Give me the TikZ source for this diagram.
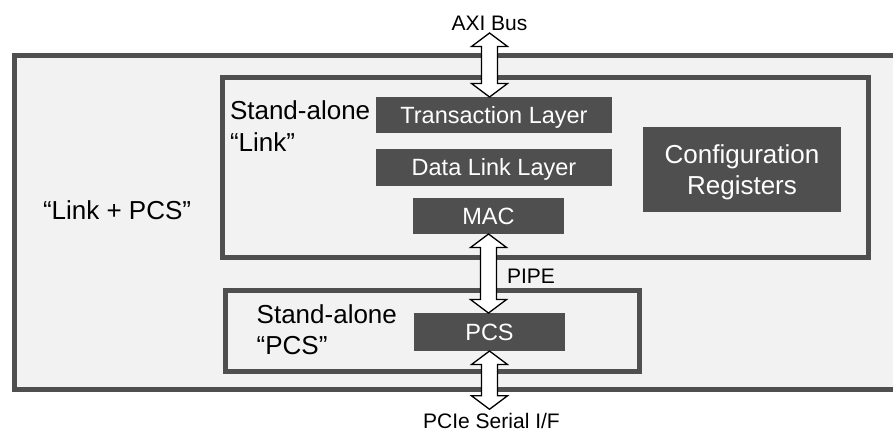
\documentclass[tikz,border=0pt]{standalone}
\usepackage{fontspec}
\setmainfont{Liberation Sans}
\usetikzlibrary{calc}
\definecolor{bgray}{HTML}{F2F2F2}
\definecolor{dgray}{HTML}{4F4F4F}
\newcommand{\bidir}[2]{%
  \path[dblarrow] let \p1=(#1), \p2=(#2) in
   (\x1,\y1) -- ++(18pt,-13.5pt) -- ++(-10pt,0pt) -- (\x1+8pt,\y2+13.5pt)
   -- ++(10pt,0pt) -- (\x1,\y2) -- ++(-18pt,13.5pt) -- ++(10pt,0pt)
   -- (\x1-8pt,\y1-13.5pt) -- ++(-10pt,0pt) -- cycle;}
\tikzset{
  frame/.style={draw=dgray, fill=bgray, line width=5pt, rectangle, inner sep=0pt, outer sep=0pt, anchor=north west},
  darkbox/.style={fill=dgray, text=white, rectangle, inner sep=0pt, outer sep=0pt,
     font=\fontsize{23.5}{28}\selectfont, text height=16.8pt, text depth=0pt},
  bigtxt/.style={inner sep=0pt, outer sep=0pt, font=\fontsize{26}{31.7}\selectfont},
  smalltxt/.style={inner sep=0pt, outer sep=0pt, font=\fontsize{21}{25}\selectfont},
  dblarrow/.style={draw=black, fill=white, line width=1.3pt, line join=miter}
}
\begin{document}
\begin{tikzpicture}[x=1pt,y=-1pt]
\clip (0,0) rectangle (893,434);
\fill[white] (0,0) rectangle (893,434);
% frames
\node[frame, minimum width=890.8pt, minimum height=333.7pt] (outer) at (14.2,55.8) {};
\node[frame, minimum width=646pt, minimum height=180.5pt] (linkbox) at (222.5,77) {};
\node[frame, minimum width=414pt, minimum height=81pt] (pcsbox) at (225.5,290.5) {};
% dark blocks
\node[darkbox, minimum width=236pt, minimum height=36pt] (tl) at (494,115) {Transaction Layer};
\node[darkbox, minimum width=236pt, minimum height=36.5pt] (dll) at (494,167.5) {Data Link Layer};
\node[darkbox, minimum width=151pt, minimum height=36pt] (mac) at (488.5,216) {MAC};
\node[darkbox, minimum width=151pt, minimum height=38pt] (pcs) at (489.5,332) {PCS};
\node[darkbox, minimum width=198pt, minimum height=85pt] (cfg) at (742,169.5) {};
\node[bigtxt, text=white, align=center] (cfgtxt) at ($(cfg.center)+(0,2.9)$) {Configuration\\Registers};
% labels
\node[bigtxt, align=left, anchor=north west] (lnklbl) at (230,101) {Stand-alone\\“Link”};
\node[bigtxt, align=left, anchor=north west] (pcslbl) at (256.7,304.3) {Stand-alone\\“PCS”};
\node[bigtxt, anchor=base west] (lpcs) at (43,219.3) {“Link + PCS”};
\node[smalltxt, anchor=base] (axi) at (489.5,30) {AXI Bus};
\node[smalltxt, anchor=base west] (pipe) at (507,283.3) {PIPE};
\node[smalltxt, anchor=base] (pcie) at (491.5,428.5) {PCIe Serial I/F};
% arrow end points
\coordinate (axitip) at ($(axi.base)+(0,3)$);
\coordinate (pcietip) at ($(pcie.north)+(0,-4)$);
% connectors
\bidir{axitip}{axitip |- tl.north}
\bidir{mac.south}{mac.south |- pcs.north}
\bidir{pcs.south}{pcs.south |- pcietip}
\end{tikzpicture}
\end{document}
